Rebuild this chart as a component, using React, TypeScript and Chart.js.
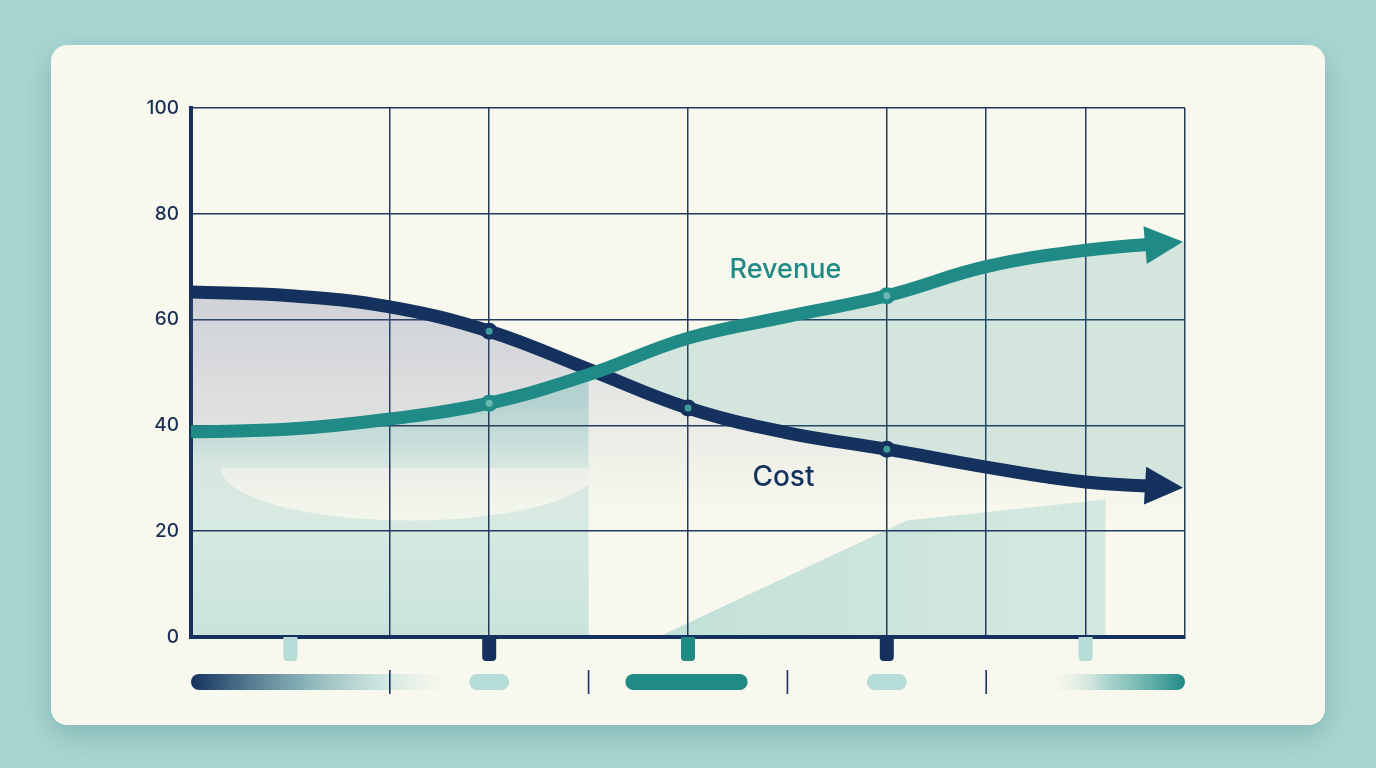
import { useEffect, useRef } from "react";
import { Chart, registerables } from "chart.js";

Chart.register(...registerables);

// values (x = grid step, y = 0..100)
const xSteps = [0, 1, 2, 3, 4, 5, 6, 7, 8, 9, 10];
const costValues = [65.2, 64.5, 62.4, 57.8, 50.6, 43.3, 38.6, 35.5, 32.1, 29.3, 28.2];
const revenueValues = [38.8, 39.3, 41.2, 44.2, 49.6, 56.5, 60.6, 64.5, 70.0, 73.1, 74.7];
const costMarkers = [3, 5, 7];
const revenueMarkers = [3, 7];
const yTicks = [0, 20, 40, 60, 80, 100];
const shownGridX = [0, 2, 3, 5, 7, 8, 9, 10];
const seriesNames = ["Cost", "Revenue"];
const tabSteps = [1, 3, 5, 7, 9];
const tabTones = ["light", "navy", "teal", "navy", "light"];
const separatorSteps = [2, 4, 6, 8];

const NAVY = "#15325e";
const TEAL = "#1f8a86";
const LIGHT = "#b5dcd7";
const GRID = "#223b5c";
const INK = "#1b2f55";

const toneColor = (t: string) => (t === "navy" ? NAVY : t === "teal" ? TEAL : LIGHT);

const decorPlugin = {
  id: "decor",
  beforeDraw(chart: any) {
    const { ctx, chartArea, scales } = chart;
    if (!chartArea) return;
    const x = (v: number) => scales.x.getPixelForValue(v);
    const y = (v: number) => scales.y.getPixelForValue(v);
    const rev = chart.getDatasetMeta(1).data;
    ctx.save();
    // soft block bottom-left, its top hugging the revenue line
    const g1 = ctx.createLinearGradient(0, y(45), 0, y(0));
    g1.addColorStop(0, "rgba(150,205,198,0.6)");
    g1.addColorStop(0.3, "rgba(170,214,208,0.35)");
    g1.addColorStop(1, "rgba(170,214,208,0.6)");
    ctx.fillStyle = g1;
    ctx.beginPath();
    ctx.moveTo(x(0), y(0));
    for (let i = 0; i <= 4 && i < rev.length; i++) ctx.lineTo(rev[i].x, rev[i].y);
    ctx.lineTo(x(4), y(0));
    ctx.closePath();
    ctx.fill();
    // pale lens inside it
    ctx.fillStyle = "rgba(248,248,238,0.8)";
    ctx.beginPath();
    ctx.ellipse(x(2.2), y(32), x(4.1) - x(2.2), y(22) - y(32), 0, 0, Math.PI);
    ctx.fill();
    // rising wedge bottom-right
    const g2 = ctx.createLinearGradient(x(4.7), 0, x(9.2), 0);
    g2.addColorStop(0, "rgba(150,205,198,0.55)");
    g2.addColorStop(1, "rgba(150,205,198,0.35)");
    ctx.fillStyle = g2;
    ctx.beginPath();
    ctx.moveTo(x(4.7), y(0));
    ctx.lineTo(x(7.2), y(22));
    ctx.lineTo(x(9.2), y(26));
    ctx.lineTo(x(9.2), y(0));
    ctx.closePath();
    ctx.fill();
    ctx.restore();
  },
  beforeDatasetDraw(chart: any) {
    const { ctx, scales } = chart;
    ctx.save();
    ctx.beginPath();
    ctx.rect(0, 0, scales.x.getPixelForValue(10) - 26, chart.height);
    ctx.clip();
  },
  afterDatasetDraw(chart: any) {
    chart.ctx.restore();
  },
  afterDatasetsDraw(chart: any) {
    const { ctx, chartArea, scales } = chart;
    const x = (v: number) => scales.x.getPixelForValue(v);
    const y = (v: number) => scales.y.getPixelForValue(v);
    ctx.save();

    // arrow heads
    chart.data.datasets.forEach((ds: any, i: number) => {
      const pts = chart.getDatasetMeta(i).data;
      const end = pts[pts.length - 1];
      const prev = pts[pts.length - 2];
      const ang = Math.atan2(end.y - prev.y, end.x - prev.x);
      ctx.save();
      ctx.translate(end.x - 2, end.y);
      ctx.rotate(ang);
      ctx.fillStyle = ds.borderColor;
      ctx.beginPath();
      ctx.moveTo(0, 0);
      ctx.lineTo(-38, -19);
      ctx.lineTo(-38, 19);
      ctx.closePath();
      ctx.fill();
      ctx.restore();
    });

    // series labels
    ctx.textAlign = "center";
    ctx.textBaseline = "middle";
    ctx.font = "500 27px Inter";
    ctx.fillStyle = TEAL;
    ctx.fillText(seriesNames[1], x(5.98), y(69.4));
    ctx.font = "500 28px Inter";
    ctx.fillStyle = NAVY;
    ctx.fillText(seriesNames[0], x(5.96), y(30.1));

    // tabs under the axis
    const base = chartArea.bottom;
    tabSteps.forEach((s, i) => {
      ctx.fillStyle = toneColor(tabTones[i]);
      ctx.beginPath();
      ctx.roundRect(x(s) - 7, base, 14, 24, [0, 0, 4, 4]);
      ctx.fill();
    });

    // timeline strip
    const yc = base + 45;
    const h = 16;
    const gA = ctx.createLinearGradient(x(0), 0, x(2.72), 0);
    gA.addColorStop(0, NAVY);
    gA.addColorStop(0.4, "rgba(110,160,170,0.85)");
    gA.addColorStop(0.72, "rgba(181,220,215,0.6)");
    gA.addColorStop(1, "rgba(248,248,238,0)");
    ctx.fillStyle = gA;
    ctx.beginPath();
    ctx.roundRect(x(0), yc - h / 2, x(2.72) - x(0), h, [8, 0, 0, 8]);
    ctx.fill();

    const pill = (a: number, b: number, c: string) => {
      ctx.fillStyle = c;
      ctx.beginPath();
      ctx.roundRect(x(a), yc - h / 2, x(b) - x(a), h, 8);
      ctx.fill();
    };
    pill(2.8, 3.2, LIGHT);
    pill(4.37, 5.6, TEAL);
    pill(6.8, 7.2, LIGHT);

    const gB = ctx.createLinearGradient(x(8.6), 0, x(10), 0);
    gB.addColorStop(0, "rgba(248,248,238,0)");
    gB.addColorStop(0.45, "rgba(140,198,192,0.75)");
    gB.addColorStop(1, TEAL);
    ctx.fillStyle = gB;
    ctx.beginPath();
    ctx.roundRect(x(8.6), yc - h / 2, x(10) - x(8.6), h, [0, 8, 8, 0]);
    ctx.fill();

    ctx.strokeStyle = NAVY;
    ctx.lineWidth = 1.6;
    separatorSteps.forEach((s) => {
      ctx.beginPath();
      ctx.moveTo(x(s), yc - 12);
      ctx.lineTo(x(s), yc + 12);
      ctx.stroke();
    });

    ctx.restore();
  },
};

export default function App() {
  const canvasRef = useRef<HTMLCanvasElement | null>(null);

  useEffect(() => {
    if (!canvasRef.current) return;

    const chart = new Chart(canvasRef.current, {
      type: "line",
      data: {
        datasets: [
          {
            label: seriesNames[0],
            data: xSteps.map((s, i) => ({ x: s, y: costValues[i] })),
            borderColor: NAVY,
            borderWidth: 13,
            tension: 0.4,
            order: 1,
            fill: "origin",
            backgroundColor: (c: any) => {
              const area = c.chart.chartArea;
              if (!area) return "transparent";
              const ys = c.chart.scales.y;
              const g = c.chart.ctx.createLinearGradient(0, ys.getPixelForValue(66), 0, ys.getPixelForValue(0));
              g.addColorStop(0, "rgba(90,100,150,0.2)");
              g.addColorStop(0.4, "rgba(90,100,150,0.08)");
              g.addColorStop(0.65, "rgba(90,100,150,0.0)");
              g.addColorStop(1, "rgba(90,100,150,0.0)");
              return g;
            },
            pointRadius: (c: any) => (costMarkers.includes(c.dataIndex) ? 6 : 0),
            pointBackgroundColor: "#3d9e99",
            pointBorderColor: NAVY,
            pointBorderWidth: 5,
          },
          {
            label: seriesNames[1],
            data: xSteps.map((s, i) => ({ x: s, y: revenueValues[i] })),
            borderColor: TEAL,
            borderWidth: 13,
            tension: 0.4,
            order: 0,
            fill: { target: 0, above: "rgba(31,138,134,0.17)", below: "rgba(90,100,150,0.08)" },
            pointRadius: (c: any) => (revenueMarkers.includes(c.dataIndex) ? 6 : 0),
            pointBackgroundColor: "#6bb8b3",
            pointBorderColor: TEAL,
            pointBorderWidth: 5,
          },
        ],
      },
      options: {
        responsive: true,
        maintainAspectRatio: false,
        animation: false,
        events: [],
        layout: { padding: { top: 63, right: 140, left: 0, bottom: 0 } },
        plugins: {
          legend: { display: false },
          tooltip: { enabled: false },
          filler: { drawTime: "beforeDatasetsDraw" },
        },
        scales: {
          x: {
            type: "linear",
            min: 0,
            max: 10,
            afterFit: (s: any) => {
              s.height = 88;
            },
            ticks: { display: false, stepSize: 1 },
            grid: {
              drawTicks: false,
              lineWidth: 1.5,
              color: (c: any) => (shownGridX.includes(c.tick?.value) ? GRID : "transparent"),
            },
            border: { display: true, color: NAVY, width: 4 },
          },
          y: {
            min: yTicks[0],
            max: yTicks[yTicks.length - 1],
            afterFit: (s: any) => {
              s.width = 140;
            },
            afterBuildTicks: (s: any) => {
              s.ticks = yTicks.map((v) => ({ value: v }));
            },
            ticks: {
              padding: 12,
              color: INK,
              font: { family: "Inter", size: 19, weight: 500 },
            },
            grid: { drawTicks: false, lineWidth: 1.5, color: GRID },
            border: { display: true, color: NAVY, width: 4 },
          },
        },
      },
      plugins: [decorPlugin],
    } as any);

    return () => {
      chart.destroy();
    };
  }, []);

  return (
    <div style={{ position: "fixed", inset: 0, background: "#a8d6d2" }}>
      <div
        style={{
          position: "absolute",
          left: 51,
          top: 45,
          width: 1274,
          height: 680,
          borderRadius: 16,
          background: "#f8f8ee",
          boxShadow: "0 10px 28px rgba(40,100,98,0.28)",
        }}
      >
        <canvas ref={canvasRef} />
      </div>
    </div>
  );
}
